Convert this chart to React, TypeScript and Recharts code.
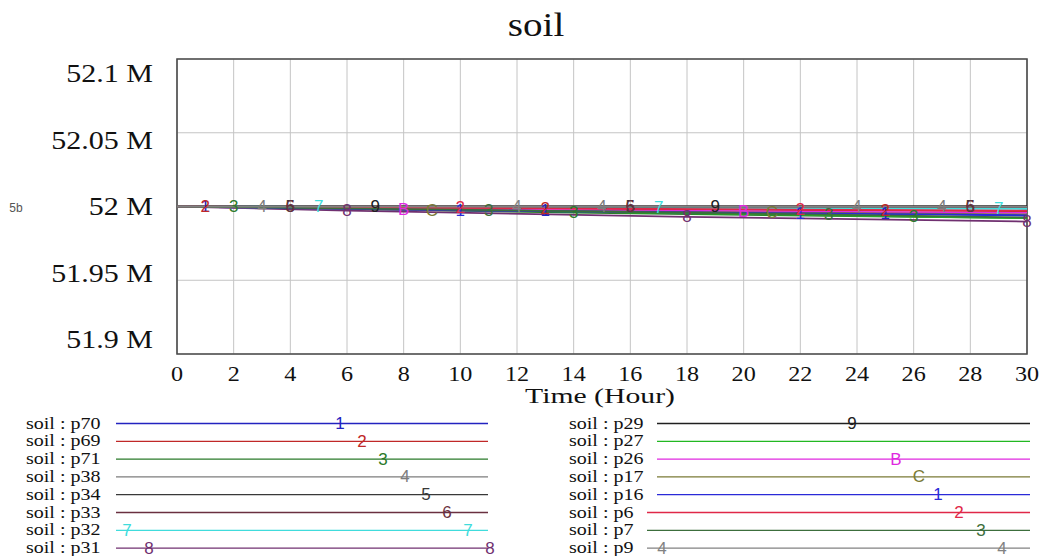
import React from 'react';
import { LineChart, Line, XAxis, YAxis, CartesianGrid, ReferenceArea, Label } from 'recharts';

// ---- data (values in millions) ----
const xTicks = [0, 2, 4, 6, 8, 10, 12, 14, 16, 18, 20, 22, 24, 26, 28, 30];
const yTicks = [51.9, 51.95, 52, 52.05, 52.1];

const p70T = [0, 1, 13, 25, 30];
const p70V = [52.0, 51.9999, 51.997, 51.9955, 51.9939];
const p69T = [0, 1, 13, 25, 30];
const p69V = [52.0, 51.9999, 51.9985, 51.9973, 51.9968];
const p71T = [0, 2, 14, 26, 30];
const p71V = [52.0, 51.9997, 51.9958, 51.9929, 51.9922];
const p38T = [0, 3, 15, 27, 30];
const p38V = [52.0, 52.0, 51.9999, 51.9998, 51.9998];
const p34T = [0, 4, 16, 28, 30];
const p34V = [52.0, 52.0, 52.0, 52.0, 52.0];
const p33T = [0, 4, 16, 28, 30];
const p33V = [52.0, 51.9999, 51.9999, 51.9998, 51.9998];
const p32T = [0, 5, 17, 29, 30];
const p32V = [52.0, 51.9997, 51.999, 51.9984, 51.9983];
const p31T = [0, 6, 18, 30];
const p31V = [52.0, 51.9972, 51.993, 51.9898];
const p29T = [0, 7, 19, 30];
const p29V = [52.0, 51.9999, 51.9999, 52.0];
const p27T = [0, 8, 20, 30];
const p27V = [52.0, 51.9984, 51.9948, 51.9921];
const p26T = [0, 8, 20, 30];
const p26V = [52.0, 51.998, 51.9968, 51.9957];
const p17T = [0, 9, 21, 30];
const p17V = [52.0, 51.9976, 51.9958, 51.9946];
const p16T = [0, 10, 22, 30];
const p16V = [52.0, 51.9974, 51.9953, 51.994];
const p6T = [0, 10, 22, 30];
const p6V = [52.0, 51.9991, 51.9979, 51.9972];
const p7T = [0, 11, 23, 30];
const p7V = [52.0, 51.9975, 51.9945, 51.9925];
const p9T = [0, 12, 24, 30];
const p9V = [52.0, 51.9999, 51.9998, 51.9998];

type S = { id: string; mark: string; color: string; t: number[]; v: number[]; marks: number[] };

const seriesList: S[] = [
  { id: 'p70', mark: '1', color: '#2323c0', t: p70T, v: p70V, marks: [1, 13, 25] },
  { id: 'p69', mark: '2', color: '#c02828', t: p69T, v: p69V, marks: [1, 13, 25] },
  { id: 'p71', mark: '3', color: '#2a7a2a', t: p71T, v: p71V, marks: [2, 14, 26] },
  { id: 'p38', mark: '4', color: '#7c7c7c', t: p38T, v: p38V, marks: [3, 15, 27] },
  { id: 'p34', mark: '5', color: '#383838', t: p34T, v: p34V, marks: [4, 16, 28] },
  { id: 'p33', mark: '6', color: '#6a3040', t: p33T, v: p33V, marks: [4, 16, 28] },
  { id: 'p32', mark: '7', color: '#40dcdc', t: p32T, v: p32V, marks: [5, 17, 29] },
  { id: 'p31', mark: '8', color: '#703070', t: p31T, v: p31V, marks: [6, 18, 30] },
  { id: 'p29', mark: '9', color: '#202020', t: p29T, v: p29V, marks: [7, 19] },
  { id: 'p27', mark: '', color: '#22b822', t: p27T, v: p27V, marks: [8, 20] },
  { id: 'p26', mark: 'B', color: '#e028e0', t: p26T, v: p26V, marks: [8, 20] },
  { id: 'p17', mark: 'C', color: '#7a7a36', t: p17T, v: p17V, marks: [9, 21] },
  { id: 'p16', mark: '1', color: '#2a2ad8', t: p16T, v: p16V, marks: [10, 22] },
  { id: 'p6', mark: '2', color: '#e02848', t: p6T, v: p6V, marks: [10, 22] },
  { id: 'p7', mark: '3', color: '#3c6e3c', t: p7T, v: p7V, marks: [11, 23] },
  { id: 'p9', mark: '4', color: '#828282', t: p9T, v: p9V, marks: [12, 24] },
];

const SERIF = '"Liberation Serif", "Times New Roman", serif';
const SANS = '"Liberation Sans", Arial, sans-serif';

const fmtY = (v: number) => `${Number(v.toFixed(2))} M`;

const YTick = (props: any) => {
  const { y, payload } = props;
  const yy = 207 + (y - 207) * 0.9;
  return (
    <text transform={`translate(153, ${yy}) scale(1.2, 1)`} textAnchor="end" dominantBaseline="central"
      fontFamily={SERIF} fontSize={25} fill="#111">
      {fmtY(payload.value)}
    </text>
  );
};

const XTick = (props: any) => {
  const { x, payload } = props;
  return (
    <text transform={`translate(${x}, 381) scale(1.15, 1)`} textAnchor="middle" fontFamily={SERIF}
      fontSize={21} fill="#111">
      {payload.value}
    </text>
  );
};

const makeDot = (s: S) => (props: any) => {
  const { cx, cy, payload, index } = props;
  const key = `${s.id}-d-${index}`;
  if (!s.mark || !payload || !s.marks.includes(payload.t)) return <g key={key} />;
  return (
    <text key={key} x={cx} y={cy} textAnchor="middle" dominantBaseline="central" fontFamily={SANS}
      fontSize={17} fill={s.color}>
      {s.mark}
    </text>
  );
};

// legend layout
const legendRows = [423.5, 441.3, 459.1, 476.9, 494.7, 512.5, 530.3, 548.1];
const leftMarks: number[][] = [[340], [362], [383], [405], [426], [447], [127, 468], [149, 490]];
const rightMarks: number[][] = [[852], [872], [896], [919], [938], [959], [981], [662, 1002]];
const rightStart = [657, 657, 657, 657, 657, 647, 647, 647];

export default function App() {
  return (
    <div style={{ position: 'absolute', left: 0, top: 0, width: 1043, height: 556, background: '#fff' }}>
      <LineChart width={1043} height={556} margin={{ top: 59, right: 16, left: 0, bottom: 152 }}>
        <CartesianGrid stroke="#c4c4c4" strokeWidth={1} horizontalValues={yTicks} verticalValues={xTicks} />
        <XAxis dataKey="t" type="number" domain={[0, 30]} ticks={xTicks}
          height={50} tick={<XTick />} tickLine={false} axisLine={false} interval={0}>
          <Label content={() => (
            <text transform="translate(600, 403) scale(1.35, 1)" textAnchor="middle" fontFamily={SERIF}
              fontSize={22} fill="#111">Time (Hour)</text>
          )} />
        </XAxis>
        <YAxis type="number" domain={[51.9, 52.1]} ticks={yTicks} width={177}
          tick={<YTick />} tickLine={false} axisLine={false} interval={0} />
        <ReferenceArea x1={0} x2={30} y1={51.9} y2={52.1} fill="none" stroke="#4a4a4a" strokeWidth={1.6}
          fillOpacity={0} />
        {seriesList.map((s) => (
          <Line key={s.id} data={s.t.map((t, i) => ({ t, v: s.v[i] }))} dataKey="v" type="linear"
            stroke={s.color} strokeWidth={1.8} dot={makeDot(s)} activeDot={false}
            isAnimationActive={false} />
        ))}
      </LineChart>
      <svg width={1043} height={556} style={{ position: 'absolute', left: 0, top: 0, pointerEvents: 'none' }}>
        <text transform="translate(536, 36) scale(1.15, 1)" textAnchor="middle" fontFamily={SERIF}
          fontSize={34} fill="#111">soil</text>
        <text x={16} y={212} textAnchor="middle" fontFamily={SANS} fontSize={12} fill="#555">5b</text>
        {seriesList.slice(0, 8).map((s, i) => (
          <g key={`l-${s.id}`}>
            <text transform={`translate(26, ${legendRows[i] + 5}) scale(1.25, 1)`} fontFamily={SERIF}
              fontSize={16} fill="#111">{`soil : ${s.id}`}</text>
            <line x1={116} x2={488} y1={legendRows[i]} y2={legendRows[i]} stroke={s.color} strokeWidth={1.3} />
            {leftMarks[i].map((mx) => (
              <text key={mx} x={mx} y={legendRows[i]} textAnchor="middle" dominantBaseline="central"
                fontFamily={SANS} fontSize={17} fill={s.color}>{s.mark}</text>
            ))}
          </g>
        ))}
        {seriesList.slice(8).map((s, i) => (
          <g key={`r-${s.id}`}>
            <text transform={`translate(569, ${legendRows[i] + 5}) scale(1.25, 1)`} fontFamily={SERIF}
              fontSize={16} fill="#111">{`soil : ${s.id}`}</text>
            <line x1={rightStart[i]} x2={1030} y1={legendRows[i]} y2={legendRows[i]} stroke={s.color} strokeWidth={1.3} />
            {rightMarks[i].map((mx) => (
              <text key={mx} x={mx} y={legendRows[i]} textAnchor="middle" dominantBaseline="central"
                fontFamily={SANS} fontSize={17} fill={s.color}>{s.mark}</text>
            ))}
          </g>
        ))}
      </svg>
    </div>
  );
}
